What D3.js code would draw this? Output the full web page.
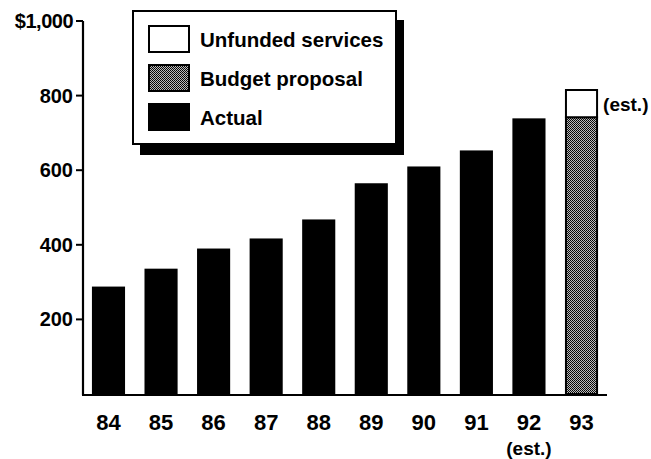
<!DOCTYPE html>
<html><head><meta charset="utf-8">
<script src="https://cdn.jsdelivr.net/npm/d3@7"></script>
<style>body{margin:0;background:#fff}svg{display:block}text{font-family:"Liberation Sans",Arial,sans-serif;font-weight:bold;fill:#000}</style>
</head><body><div id="c"></div>
<script>
const years = ["84","85","86","87","88","89","90","91","92","93"];
const actual = [288,336,390,417,468,565,610,653,739,null];
const budget = [null,null,null,null,null,null,null,null,null,742];
const unfunded = [null,null,null,null,null,null,null,null,null,73];
const yTicks = [200,400,600,800,1000];
const legendItems = ["Unfunded services","Budget proposal","Actual"];

const W=651,H=459;
const svg=d3.select("#c").append("svg").attr("width",W).attr("height",H);
const defs=svg.append("defs");
const pat=defs.append("pattern").attr("id","chk").attr("width",2).attr("height",2).attr("patternUnits","userSpaceOnUse");
pat.append("rect").attr("width",2).attr("height",2).attr("fill","#bbb");
pat.append("rect").attr("width",1).attr("height",1).attr("fill","#000");
pat.append("rect").attr("x",1).attr("y",1).attr("width",1).attr("height",1).attr("fill","#111");

const x=d3.scaleBand().domain(years).range([83,607]).paddingInner(0.37).paddingOuter(0.17);
const y=d3.scaleLinear().domain([0,1000]).range([394,21]);

// bars
years.forEach((yr,i)=>{
  if(actual[i]!=null){
    svg.append("rect").attr("x",x(yr)).attr("width",x.bandwidth()).attr("y",y(actual[i])).attr("height",y(0)-y(actual[i])).attr("fill","#000");
  }
  if(budget[i]!=null){
    svg.append("rect").attr("x",x(yr)+1).attr("width",x.bandwidth()-2).attr("y",y(budget[i])).attr("height",y(0)-y(budget[i])).attr("fill","url(#chk)").attr("stroke","#000").attr("stroke-width",2);
    const top=budget[i]+unfunded[i];
    svg.append("rect").attr("x",x(yr)+1).attr("width",x.bandwidth()-2).attr("y",y(top)).attr("height",y(budget[i])-y(top)).attr("fill","#fff").attr("stroke","#000").attr("stroke-width",2);
    svg.append("text").attr("x",x(yr)+x.bandwidth()+5).attr("y",y(top)+(y(budget[i])-y(top))/2+7).attr("font-size",19).text("(est.)");
  }
});

// axes
svg.append("line").attr("x1",83).attr("x2",83).attr("y1",y(1000)).attr("y2",y(0)+1).attr("stroke","#000").attr("stroke-width",2.2);
svg.append("line").attr("x1",82).attr("x2",607).attr("y1",y(0)+1).attr("y2",y(0)+1).attr("stroke","#000").attr("stroke-width",2.2);
yTicks.forEach(t=>{
  svg.append("line").attr("x1",76).attr("x2",83).attr("y1",y(t)).attr("y2",y(t)).attr("stroke","#000").attr("stroke-width",2);
  svg.append("text").attr("x",73).attr("y",y(t)+7).attr("text-anchor","end").attr("font-size",20)
    .attr("letter-spacing",t===1000?"-0.5":"0")
    .text(t===1000?"$1,000":d3.format("d")(t));
});
years.forEach(yr=>{
  svg.append("text").attr("x",x(yr)+x.bandwidth()/2).attr("y",430).attr("text-anchor","middle").attr("font-size",22).text(yr);
});
svg.append("text").attr("x",x("92")+x.bandwidth()/2).attr("y",455).attr("text-anchor","middle").attr("font-size",19).text("(est.)");

// legend
const lg=svg.append("g");
lg.append("rect").attr("x",140).attr("y",20).attr("width",264).attr("height",135).attr("fill","#000");
lg.append("rect").attr("x",133).attr("y",11).attr("width",263).attr("height",133).attr("fill","#fff").attr("stroke","#000").attr("stroke-width",2);
const fills=["#fff","url(#chk)","#000"];
legendItems.forEach((t,i)=>{
  const yy=26+i*39;
  lg.append("rect").attr("x",149).attr("y",yy).attr("width",40).attr("height",26).attr("fill",fills[i]).attr("stroke","#000").attr("stroke-width",2);
  lg.append("text").attr("x",200).attr("y",yy+21).attr("font-size",20.5).text(t);
});
</script></body></html>
